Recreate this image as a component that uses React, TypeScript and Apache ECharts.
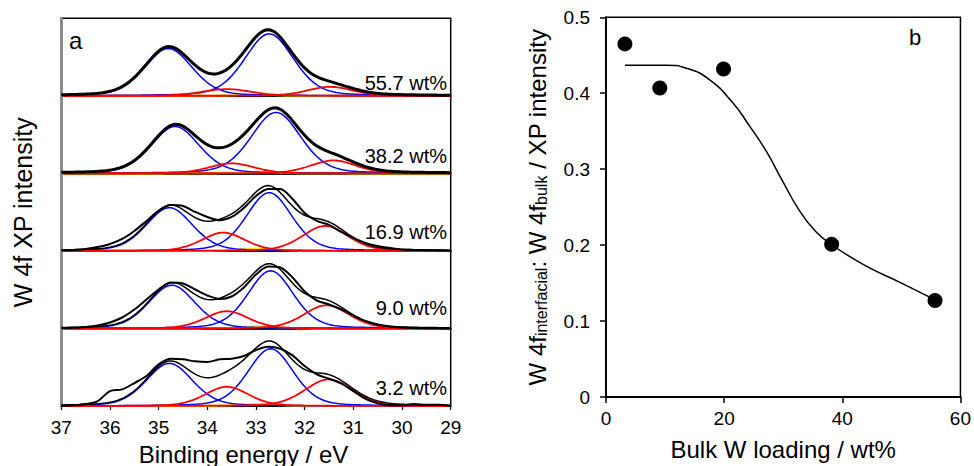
import React, { useEffect, useRef } from "react";
import * as echarts from "echarts";

// ---------- Panel a : W 4f XP spectra ----------
const loadingLabels = ["55.7 wt%", "38.2 wt%", "16.9 wt%", "9.0 wt%", "3.2 wt%"];

// fitted components: [centre eV, height, FWHM eV]
const bluePeaks = [
  [[34.8, 47.4, 1.15], [32.73, 62.0, 1.18]],
  [[34.66, 47.0, 1.16], [32.59, 61.0, 1.2]],
  [[34.78, 43.3, 1.12], [32.73, 58.3, 1.1]],
  [[34.73, 43.3, 1.12], [32.7, 57.7, 1.1]],
  [[34.78, 42.7, 1.12], [32.7, 57.3, 1.1]],
];
const redPeaks = [
  [[33.6, 6.7, 1.2], [31.48, 9.0, 1.1]],
  [[33.5, 10.0, 1.1], [31.41, 13.0, 1.1]],
  [[33.67, 18.3, 1.05], [31.58, 25.0, 1.1]],
  [[33.6, 17.3, 1.05], [31.55, 23.3, 1.1]],
  [[33.6, 19.3, 1.05], [31.51, 26.7, 1.15]],
];
const yellowPeaks = [
  [33.0, 1.2, 1.0],
  [33.0, 1.5, 1.0],
  [33.0, 2.0, 1.0],
  [33.0, 2.0, 1.0],
  [33.0, 2.0, 1.0],
];

// measured spectra (where they depart from the fit)
const measuredEnergy = [
  37, 36.75, 36.5, 36.25, 36, 35.75, 35.5, 35.25, 35, 34.75, 34.5, 34.25, 34, 33.75, 33.5, 33.25, 33,
  32.75, 32.5, 32.25, 32, 31.75, 31.5, 31.25, 31, 30.75, 30.5, 30.25, 30, 29.75, 29.5, 29.25, 29,
];
const measured169 = [
  0.5, 1, 2, 4, 7, 12, 20, 30, 40, 46, 45, 39, 34, 30.7, 34, 43, 55, 62, 62, 52, 38, 30, 26, 19, 13, 8, 5, 3,
  1.5, 1, 0.7, 0.5, 0.3,
];
const measured90 = [
  0.3, 0.7, 1.5, 3, 6, 11, 19, 29, 39, 46, 45, 39, 33, 29.5, 32, 41, 54, 62, 61, 51, 37, 28, 24, 19, 13, 7.5,
  4, 2, 1, 0.5, 0.3, 0.2, 0,
];
const measured32 = [
  0, 0.7, 2, 5, 15, 16.7, 23, 30, 41.7, 47.3, 46.7, 44.7, 44, 46.7, 47.3, 50, 56, 59.3, 57.3, 50.7, 40, 31.7,
  27.3, 22.7, 15, 7.3, 2.7, 0.7, 0.7, 2, 1.3, 1.3, 0,
];
const measuredSets = [null, null, measured169, measured90, measured32];

// ---------- Panel b ----------
const bulkLoading = [3.2, 9.1, 19.9, 38.2, 55.7];
const interfacialRatio = [0.465, 0.407, 0.432, 0.201, 0.127];
const fitLoading = [3.2, 7, 10.2, 13.6, 17.5, 21.4, 24.2, 27.1, 29.85, 32.7, 35.5, 38.3, 43.9, 49.5, 55.7];
const fitRatio = [0.437, 0.437, 0.437, 0.433, 0.418, 0.388, 0.358, 0.324, 0.285, 0.246, 0.218, 0.2, 0.173, 0.152, 0.128];

const FONT = "'Liberation Sans', Arial, sans-serif";

function pseudoVoigt(x: number, p: number[]) {
  const [c, h, w] = p;
  const d = (x - c) * (x - c);
  const eta = 0.25;
  const g = Math.exp((-4 * Math.LN2 * d) / (w * w));
  const l = 1 / (1 + (4 * d) / (w * w));
  return h * ((1 - eta) * g + eta * l);
}

export default function App() {
  const ref = useRef<HTMLDivElement>(null);
  useEffect(() => {
    if (!ref.current) return;
    const chart = echarts.init(ref.current, null, { renderer: "svg" });

    const xs: number[] = [];
    for (let k = 0; k <= 160; k++) xs.push(+(37 - k * 0.05).toFixed(2));

    const gridTop = 18.3;
    const gridH = 77.55;
    const grids: any[] = [];
    const xAxes: any[] = [];
    const yAxes: any[] = [];
    const series: any[] = [];

    for (let i = 0; i < 5; i++) {
      grids.push({
        left: 61.3,
        width: 389.4,
        top: gridTop + i * gridH,
        height: gridH,
        show: true,
        borderColor: "#000",
        borderWidth: 1.5,
        backgroundColor: "transparent",
      });
      const last = i === 4;
      xAxes.push({
        gridIndex: i,
        type: "value",
        min: 29,
        max: 37,
        interval: 1,
        inverse: true,
        axisLine: { show: true, onZero: false, lineStyle: { color: "#000", width: 1.5 } },
        axisTick: { show: last, inside: false, length: 4, lineStyle: { color: "#000", width: 1.2 } },
        axisLabel: { show: last, fontSize: 19, color: "#000", fontFamily: FONT, margin: 12 },
        splitLine: { show: false },
      });
      const yax: any = {
        gridIndex: i,
        type: "value",
        min: 0,
        max: gridH,
        z: 5,
        axisLine: { show: true, lineStyle: { color: "#8c8c8c", width: 3 } },
        axisTick: { show: false },
        axisLabel: { show: false },
        splitLine: { show: false },
      };
      if (i === 2) {
        yax.name = "W 4f XP intensity";
        yax.nameLocation = "middle";
        yax.nameGap = 26;
        yax.nameTextStyle = { fontSize: 25, color: "#000", fontFamily: FONT };
      }
      yAxes.push(yax);

      const comp = (p: number[]) => xs.map((x) => [x, pseudoVoigt(x, p)]);
      const all = [...bluePeaks[i], ...redPeaks[i], yellowPeaks[i]];
      const envelope = xs.map((x) => [x, all.reduce((s, p) => s + pseudoVoigt(x, p), 0)]);
      const base = {
        type: "line",
        xAxisIndex: i,
        yAxisIndex: i,
        showSymbol: false,
        symbol: "none",
        clip: false,
        silent: true,
      };
      series.push({ ...base, name: "yellow" + i, data: comp(yellowPeaks[i]), lineStyle: { color: "#ffe600", width: 2 }, z: 2 });
      bluePeaks[i].forEach((p, j) =>
        series.push({ ...base, name: "blue" + i + j, data: comp(p), lineStyle: { color: "#0000ff", width: 1.5 }, z: 3 })
      );
      redPeaks[i].forEach((p, j) =>
        series.push({ ...base, name: "red" + i + j, data: comp(p), lineStyle: { color: "#ff0000", width: 1.8 }, z: 4 })
      );
      const m = measuredSets[i];
      series.push({
        ...base,
        name: "fit" + i,
        data: envelope,
        lineStyle: { color: "#000", width: m ? 1.5 : 3 },
        z: 5,
      });
      if (m) {
        series.push({
          ...base,
          name: "data" + i,
          data: measuredEnergy.map((e, k) => [e, m[k]]),
          smooth: 0.3,
          lineStyle: { color: "#000", width: 2 },
          z: 6,
        });
      }
    }

    // panel b grid
    grids.push({
      left: 606,
      width: 356.5,
      top: 17.3,
      height: 386.7,
      show: true,
      borderColor: "#000",
      borderWidth: 1.5,
      backgroundColor: "transparent",
    });
    xAxes.push({
      gridIndex: 5,
      type: "value",
      min: 0,
      max: 60,
      interval: 20,
      axisLine: { show: true, onZero: false, lineStyle: { color: "#000", width: 2 } },
      axisTick: { show: true, inside: false, length: 6, lineStyle: { color: "#000", width: 1.5 } },
      axisLabel: { fontSize: 19, color: "#000", fontFamily: FONT, margin: 12 },
      splitLine: { show: false },
      name: "Bulk W loading / wt%",
      nameLocation: "middle",
      nameGap: 40,
      nameTextStyle: { fontSize: 24, color: "#000", fontFamily: FONT },
    });
    yAxes.push({
      gridIndex: 5,
      type: "value",
      min: 0,
      max: 0.5,
      interval: 0.1,
      axisLine: { show: true, onZero: false, lineStyle: { color: "#000", width: 2 } },
      axisTick: { show: true, inside: false, length: 6, lineStyle: { color: "#000", width: 1.5 } },
      axisLabel: {
        fontSize: 19,
        color: "#000",
        fontFamily: FONT,
        margin: 16,
        formatter: (v: number) => (v === 0 ? "0" : v.toFixed(1)),
      },
      splitLine: { show: false },
      name: "{m|W 4f}{s|interfacial}{m|: W 4f}{s|bulk}{m| / XP intensity}",
      nameLocation: "middle",
      nameGap: 57,
      nameTextStyle: {
        fontSize: 24,
        color: "#000",
        fontFamily: FONT,
        rich: {
          m: { fontSize: 24, lineHeight: 28, verticalAlign: "bottom", color: "#000", fontFamily: FONT },
          s: { fontSize: 16, lineHeight: 16, verticalAlign: "bottom", color: "#000", fontFamily: FONT },
        },
      },
    });
    series.push({
      type: "line",
      name: "fit b",
      xAxisIndex: 5,
      yAxisIndex: 5,
      data: fitLoading.map((x, k) => [x, fitRatio[k]]),
      smooth: 0.5,
      showSymbol: false,
      symbol: "none",
      lineStyle: { color: "#000", width: 1.5 },
      z: 3,
    });
    series.push({
      type: "scatter",
      name: "points b",
      xAxisIndex: 5,
      yAxisIndex: 5,
      data: bulkLoading.map((x, k) => [x, interfacialRatio[k]]),
      symbol: "circle",
      symbolSize: 15,
      itemStyle: { color: "#000", opacity: 1 },
      z: 4,
    });

    const labelCentres = [83, 155.5, 232, 307.5, 387.5];
    const graphic: any[] = [
      {
        type: "text",
        x: 69,
        y: 40,
        style: { text: "a", font: `24px ${FONT}`, fill: "#000", textVerticalAlign: "middle" },
      },
      {
        type: "text",
        x: 909,
        y: 37.5,
        style: { text: "b", font: `22px ${FONT}`, fill: "#000", textVerticalAlign: "middle" },
      },
      {
        type: "text",
        x: 243.5,
        y: 454,
        style: {
          text: "Binding energy / eV",
          font: `24px ${FONT}`,
          fill: "#000",
          textAlign: "center",
          textVerticalAlign: "middle",
        },
      },
      ...loadingLabels.map((t, i) => ({
        type: "text",
        x: 447,
        y: labelCentres[i],
        z: 10,
        style: { text: t, font: `20px ${FONT}`, fill: "#000", textAlign: "right", textVerticalAlign: "middle" },
      })),
    ];

    chart.setOption({
      animation: false,
      backgroundColor: "#fff",
      textStyle: { fontFamily: FONT },
      grid: grids,
      xAxis: xAxes,
      yAxis: yAxes,
      series,
      graphic,
    });
    return () => chart.dispose();
  }, []);
  return <div ref={ref} style={{ position: "absolute", left: 0, top: 0, width: 974, height: 466 }} />;
}
